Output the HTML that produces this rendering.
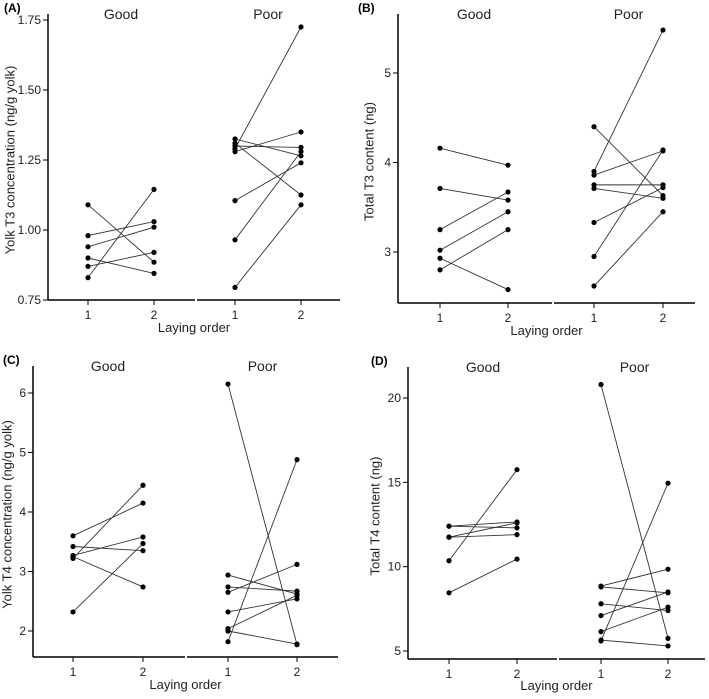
<!DOCTYPE html>
<html><head><meta charset="utf-8"><style>
body{margin:0;background:#fff;width:709px;height:694px;overflow:hidden}
svg{font-family:"Liberation Sans",Arial,sans-serif}
</style></head><body>
<svg id="fig" width="709" height="694" viewBox="0 0 709 694"></svg>
<script>
// Panel A: Yolk T3 concentration
const aGood1=[1.09,0.98,0.94,0.90,0.87,0.83];
const aGood2=[0.885,1.03,1.01,0.845,0.92,1.145];
const aPoor1=[1.29,1.28,1.325,1.31,1.30,1.105,0.965,0.795];
const aPoor2=[1.725,1.35,1.265,1.125,1.295,1.24,1.28,1.09];
const aTicks=[0.75,1.00,1.25,1.50,1.75];
const aTickLabels=["0.75","1.00","1.25","1.50","1.75"];
// Panel B: Total T3 content
const bGood1=[4.16,3.71,3.25,3.02,2.93,2.80];
const bGood2=[3.97,3.58,3.67,3.45,2.58,3.25];
const bPoor1=[4.40,3.90,3.86,3.75,3.71,3.33,2.95,2.62];
const bPoor2=[3.63,5.48,4.13,3.75,3.60,3.72,4.14,3.45];
const bTicks=[3,4,5];
const bTickLabels=["3","4","5"];
// Panel C: Yolk T4 concentration
const cGood1=[3.60,3.42,3.27,3.22,3.25,2.32];
const cGood2=[4.15,3.35,3.58,4.45,2.74,3.47];
const cPoor1=[6.15,1.82,2.65,2.94,2.74,2.32,2.04,2.00];
const cPoor2=[1.77,4.88,3.12,2.62,2.67,2.54,2.60,1.78];
const cTicks=[2,3,4,5,6];
const cTickLabels=["2","3","4","5","6"];
// Panel D: Total T4 content
const dGood1=[12.4,12.4,11.75,11.75,10.35,8.45];
const dGood2=[12.3,12.65,12.6,11.9,15.75,10.45];
const dPoor1=[20.8,5.6,8.85,8.8,7.8,7.1,6.15,5.65];
const dPoor2=[5.75,14.95,9.85,8.45,7.4,8.5,7.6,5.3];
const dTicks=[5,10,15,20];
const dTickLabels=["5","10","15","20"];

const NS="http://www.w3.org/2000/svg";
const svg=document.getElementById('fig');
function mk(tag,attrs,parent,text){const e=document.createElementNS(NS,tag);for(const k in attrs)e.setAttribute(k,attrs[k]);if(text!==undefined)e.textContent=text;(parent||svg).appendChild(e);return e;}

const panels=[
 {id:'a',letter:'(A)',lx:4,ax:48,top:20,bottom:300,gap:195,end:340,x1g:88,x2g:154,x1p:235,x2p:301,v0:0.75,y0:300,v1:1.75,y1:20,ticks:aTicks,tl:aTickLabels,g1:aGood1,g2:aGood2,p1:aPoor1,p2:aPoor2,ylab:'Yolk T3 concentration (ng/g yolk)',ylx:11},
 {id:'b',letter:'(B)',lx:358,ax:398,top:20,bottom:303,gap:552,end:695,x1g:440,x2g:508,x1p:594,x2p:663,v0:3,y0:252,v1:5,y1:73,ticks:bTicks,tl:bTickLabels,g1:bGood1,g2:bGood2,p1:bPoor1,p2:bPoor2,ylab:'Total T3 content (ng)',ylx:370},
 {id:'c',letter:'(C)',lx:3,ax:33,top:372,bottom:657,gap:185,end:338,x1g:73,x2g:143,x1p:228,x2p:297,v0:2,y0:631,v1:6,y1:393,ticks:cTicks,tl:cTickLabels,g1:cGood1,g2:cGood2,p1:cPoor1,p2:cPoor2,ylab:'Yolk T4 concentration (ng/g yolk)',ylx:8},
 {id:'d',letter:'(D)',lx:371,ax:408,top:373,bottom:659,gap:557,end:705,x1g:449,x2g:517,x1p:601,x2p:668,v0:5,y0:651,v1:20,y1:398,ticks:dTicks,tl:dTickLabels,g1:dGood1,g2:dGood2,p1:dPoor1,p2:dPoor2,ylab:'Total T4 content (ng)',ylx:376}
];

panels.forEach(p=>{
 const g=mk('g',{});
 
 
 const y=v=>p.y0+(v-p.v0)*(p.y1-p.y0)/(p.v1-p.v0);
 const t=mk('text',{x:p.lx,y:p.top-8,'font-size':12,'font-weight':'bold'},g,p.letter);
 
 
 const yax=mk('line',{x1:p.ax,y1:p.top-6,x2:p.ax,y2:p.bottom,stroke:'#000','stroke-width':1.5},g);
 
 
 const xa1=mk('line',{x1:p.ax,y1:p.bottom,x2:p.gap,y2:p.bottom,stroke:'#000','stroke-width':1.5},g);
 
 
 const xa2=mk('line',{x1:p.gap+2,y1:p.bottom,x2:p.end,y2:p.bottom,stroke:'#000','stroke-width':1.5},g);
 
 
 p.ticks.forEach((v,i)=>{
  const yy=y(v);
  mk('line',{x1:p.ax-5,y1:yy,x2:p.ax,y2:yy,stroke:'#000','stroke-width':1},g);
  const tt=mk('text',{x:p.ax-7,y:yy+4,'font-size':12,'text-anchor':'end',fill:'#222'},g,p.tl[i]);
  
  
 });
 [[p.x1g,'1'],[p.x2g,'2'],[p.x1p,'1'],[p.x2p,'2']].forEach(([x,l])=>{
  mk('line',{x1:x,y1:p.bottom,x2:x,y2:p.bottom+5,stroke:'#000','stroke-width':1},g);
  const tt=mk('text',{x:x,y:p.bottom+19,'font-size':12,'text-anchor':'middle',fill:'#222'},g,l);
  
  
 });
 const gl=mk('text',{x:(p.x1g+p.x2g)/2,y:p.top-1,'font-size':14,'text-anchor':'middle',fill:'#222'},g,'Good');
 
 
 const pl=mk('text',{x:(p.x1p+p.x2p)/2,y:p.top-1,'font-size':14,'text-anchor':'middle',fill:'#222'},g,'Poor');
 
 
 const xl=mk('text',{x:(p.ax+p.end)/2,y:Math.min(p.bottom+32,690),'font-size':13,'text-anchor':'middle',fill:'#222'},g,'Laying order');
 
 
 const cy=(p.top+p.bottom)/2;
 const yl=mk('text',{x:p.ylx,y:cy,'font-size':13,'text-anchor':'middle',fill:'#222',transform:`rotate(-90 ${p.ylx} ${cy})`,'dominant-baseline':'middle'},g,p.ylab);
 
 
 const draw=(a1,a2,xa,xb,grp)=>{
  a1.forEach((v,i)=>{
   const ln=mk('line',{x1:xa,y1:y(v),x2:xb,y2:y(a2[i]),stroke:'#333','stroke-width':0.9},g);
   
   
   const c1=mk('circle',{cx:xa,cy:y(v),r:2.6,fill:'#000'},g);
   
   
   const c2=mk('circle',{cx:xb,cy:y(a2[i]),r:2.6,fill:'#000'},g);
   
   
  });
 };
 draw(p.g1,p.g2,p.x1g,p.x2g,'good');
 draw(p.p1,p.p2,p.x1p,p.x2p,'poor');
});
</script>
</body></html>
